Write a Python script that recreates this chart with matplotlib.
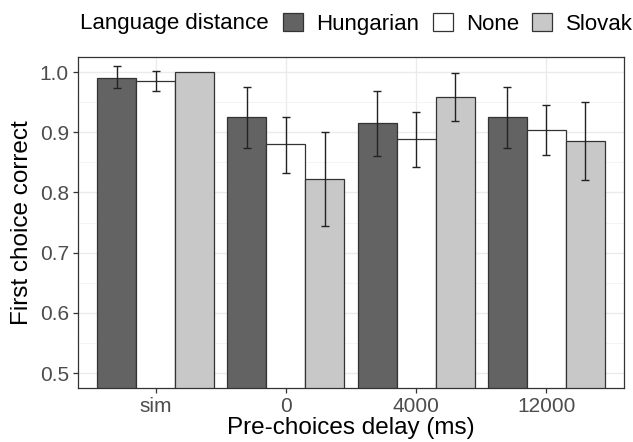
import numpy as np
import matplotlib.pyplot as plt
from matplotlib.patches import Patch

plt.rcParams['font.family'] = ['Liberation Sans', 'DejaVu Sans']

# data
delays = ["sim", "0", "4000", "12000"]
groups = ["Hungarian", "None", "Slovak"]
colors = ["#636363", "#ffffff", "#c8c8c8"]

hungarian = [0.990, 0.925, 0.915, 0.925]
hungarian_lo = [0.973, 0.874, 0.861, 0.874]
hungarian_hi = [1.010, 0.976, 0.969, 0.976]

none = [0.985, 0.880, 0.888, 0.904]
none_lo = [0.968, 0.832, 0.843, 0.862]
none_hi = [1.002, 0.925, 0.933, 0.945]

slovak = [1.000, 0.822, 0.959, 0.885]
slovak_lo = [1.000, 0.745, 0.918, 0.820]
slovak_hi = [1.000, 0.901, 0.999, 0.951]

means = [hungarian, none, slovak]
lows = [hungarian_lo, none_lo, slovak_lo]
highs = [hungarian_hi, none_hi, slovak_hi]

fig = plt.figure(figsize=(6.33, 4.42), dpi=100)
ax = fig.add_axes([0.123, 0.122, 0.863, 0.749])

x = np.arange(len(delays))
w = 0.3
for i, g in enumerate(groups):
    pos = x + (i - 1) * w
    m = np.array(means[i])
    ax.bar(pos, m, width=w, bottom=0, color=colors[i], edgecolor="#333333",
           linewidth=0.9, zorder=2)
    # error bars (Slovak at sim has none)
    lo = m - np.array(lows[i])
    hi = np.array(highs[i]) - m
    keep = (lo > 0) | (hi > 0)
    ax.errorbar(pos[keep], m[keep], yerr=[lo[keep], hi[keep]], fmt="none",
                ecolor="#222222", elinewidth=1.0, capsize=3, capthick=1.0, zorder=3)

ax.set_ylim(0.475, 1.025)
ax.set_xlim(-0.6, 3.6)
ax.set_yticks([0.5, 0.6, 0.7, 0.8, 0.9, 1.0])
ax.set_yticks([0.55, 0.65, 0.75, 0.85, 0.95], minor=True)
ax.set_xticks(x)
ax.set_xticklabels(delays)
ax.yaxis.set_major_formatter(plt.FuncFormatter(lambda v, p: f"{v:.1f}"))

ax.grid(True, which="major", color="#ebebeb", linewidth=1.0, zorder=0)
ax.grid(True, which="minor", axis="y", color="#f2f2f2", linewidth=0.6, zorder=0)
ax.set_axisbelow(True)
for s in ax.spines.values():
    s.set_color("#333333")
    s.set_linewidth(0.9)

ax.tick_params(axis="both", which="major", labelsize=15, labelcolor="#4d4d4d",
               color="#333333", length=3.5, width=0.9, pad=3)
ax.tick_params(axis="both", which="minor", length=0)
ax.set_xlabel("Pre-choices delay (ms)", fontsize=17.5, labelpad=1)
ax.set_ylabel("First choice correct", fontsize=17.5, labelpad=5)

# legend on top: title on the left, keys in one row
handles = [Patch(facecolor=c, edgecolor="#333333", linewidth=0.9) for c in colors]
fig.text(0.126, 0.946, "Language distance", fontsize=16, va="center", ha="left")
fig.legend(handles, groups, ncol=3, loc="center left", bbox_to_anchor=(0.447, 0.946),
           frameon=False, fontsize=16, handlelength=0.9, handleheight=0.9,
           handletextpad=0.6, columnspacing=0.6, borderpad=0, borderaxespad=0)

fig.savefig("out.png", dpi=100)
